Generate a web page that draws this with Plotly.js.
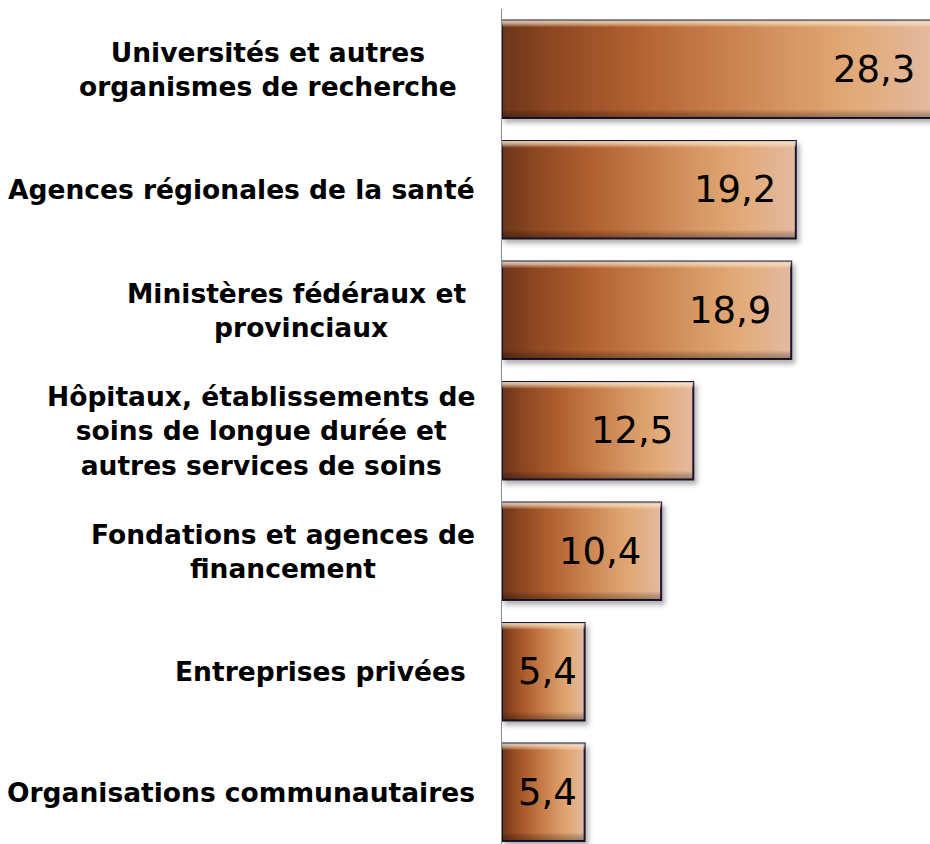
<!DOCTYPE html>
<html><head><meta charset="utf-8">
<script src="https://cdn.plot.ly/plotly-3.0.1.min.js"></script>
<style>html,body{margin:0;padding:0;overflow:hidden;background:#fff}#chart{width:960px;height:844px}</style>
</head><body><div id="chart"></div>
<script>
const categories = [
  "Universités et autres\u00a0\u00a0<br>organismes de recherche\u00a0\u00a0",
  "Agences régionales de la santé",
  "Ministères fédéraux et\u00a0<br>provinciaux",
  "Hôpitaux, établissements de<br>soins de longue durée et<br>autres services de soins",
  "Fondations et agences de<br>financement",
  "Entreprises privées\u00a0",
  "Organisations communautaires"
];
const values = [28.3, 19.2, 18.9, 12.5, 10.4, 5.4, 5.4];
const valueLabels = values.map(v => v.toFixed(1).replace('.', ','));

const plotLeft = 502, plotWidth = 458, xMax = 29.93;
const pxPerUnit = plotWidth / xMax;

const data = [{
  type: 'bar', orientation: 'h',
  y: categories, x: values, width: 0.81,
  marker: {color: '#c27a48', line: {color: '#1c1233', width: 2}},
  hoverinfo: 'none'
}];

const annotations = [];
categories.forEach((c, i) => {
  annotations.push({
    xref: 'x', yref: 'y', x: 0, y: c, text: c,
    xanchor: 'right', yanchor: 'middle', align: 'center', xshift: -25,
    showarrow: false,
    font: {family: 'DejaVu Sans', size: 26.5, color: '#000', weight: 'bold'}
  });
  const small = values[i] * pxPerUnit < 100;
  annotations.push({
    xref: 'x', yref: 'y', x: small ? values[i] / 2 : values[i], y: c, text: valueLabels[i],
    xanchor: small ? 'center' : 'right', yanchor: 'middle', xshift: small ? 4 : -18,
    showarrow: false,
    font: {family: 'DejaVu Sans', size: 37, color: '#000'}
  });
});

const layout = {
  width: 960, height: 844,
  margin: {l: plotLeft, r: 0, t: 9, b: 0, pad: 0},
  paper_bgcolor: '#fff', plot_bgcolor: '#fff',
  showlegend: false,
  xaxis: {range: [0, xMax], visible: false, fixedrange: true},
  yaxis: {type: 'category', range: [6.43, -0.5], showticklabels: false, ticks: '',
          showgrid: false, zeroline: false, showline: true, linecolor: '#8a8a8a', linewidth: 1.5},
  annotations: annotations
};

Plotly.newPlot('chart', data, layout, {staticPlot: true, displayModeBar: false}).then(gd => {
  const svg = gd.querySelector('svg.main-svg');
  const NS = 'http://www.w3.org/2000/svg';
  let defs = svg.querySelector('defs');
  if (!defs) { defs = document.createElementNS(NS, 'defs'); svg.insertBefore(defs, svg.firstChild); }
  defs.insertAdjacentHTML('beforeend', `
    <linearGradient id="barGrad" x1="0" y1="0" x2="1" y2="0">
      <stop offset="0" stop-color="#6b3519"/>
      <stop offset="0.12" stop-color="#8f4822"/>
      <stop offset="0.3" stop-color="#b0602f"/>
      <stop offset="0.5" stop-color="#c77e4b"/>
      <stop offset="0.7" stop-color="#d99c68"/>
      <stop offset="0.82" stop-color="#e2aa78"/>
      <stop offset="1" stop-color="#e3baa2"/>
    </linearGradient>
    <linearGradient id="bevelGrad" x1="0" y1="0" x2="0" y2="1">
      <stop offset="0" stop-color="#fff2d8" stop-opacity="0.85"/>
      <stop offset="0.03" stop-color="#ffe6c0" stop-opacity="0.6"/>
      <stop offset="0.07" stop-color="#ffffff" stop-opacity="0"/>
      <stop offset="0.91" stop-color="#000000" stop-opacity="0"/>
      <stop offset="0.95" stop-color="#000000" stop-opacity="0.18"/>
      <stop offset="1" stop-color="#000000" stop-opacity="0.32"/>
    </linearGradient>
    <filter id="barShadow" x="-10%" y="-20%" width="130%" height="150%">
      <feDropShadow dx="3" dy="4" stdDeviation="2.5" flood-color="#000" flood-opacity="0.3"/>
    </filter>`);
  gd.querySelectorAll('.barlayer .point path').forEach(p => {
    p.style.fill = 'url(#barGrad)';
    p.setAttribute('filter', 'url(#barShadow)');
    const ov = p.cloneNode();
    ov.removeAttribute('filter');
    ov.style.fill = 'url(#bevelGrad)';
    ov.style.stroke = 'none';
    p.parentNode.appendChild(ov);
  });
});
</script>
</body></html>
